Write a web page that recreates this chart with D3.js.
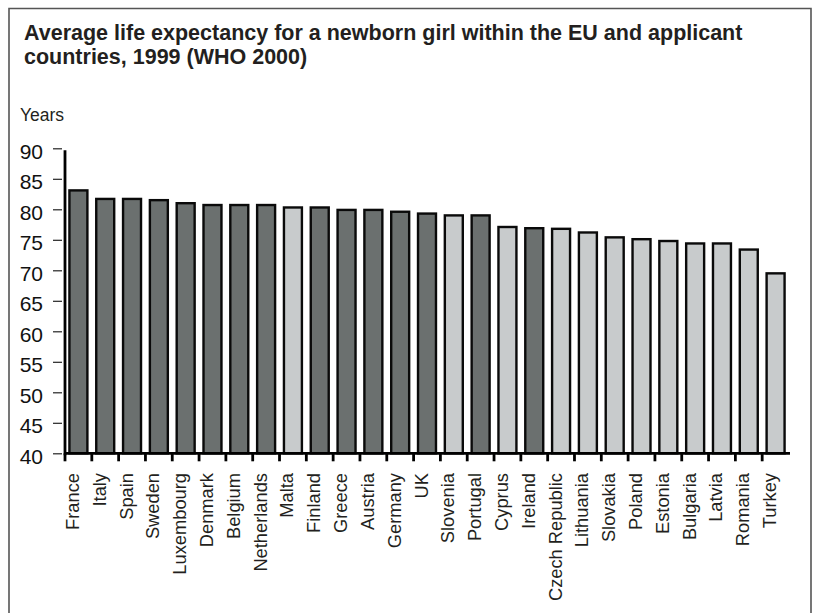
<!DOCTYPE html>
<html>
<head>
<meta charset="utf-8">
<script src="https://cdn.jsdelivr.net/npm/d3@7"></script>
<style>
  html, body { margin: 0; padding: 0; background: #fff; }
  svg { display: block; font-family: "Liberation Sans", Arial, Helvetica, sans-serif; }
</style>
</head>
<body>
<svg id="chart" width="815" height="613"></svg>
<script>
// Female life expectancy at birth, 1999 (WHO 2000)
const countries = ["France", "Italy", "Spain", "Sweden", "Luxembourg", "Denmark", "Belgium",
  "Netherlands", "Malta", "Finland", "Greece", "Austria", "Germany", "UK", "Slovenia",
  "Portugal", "Cyprus", "Ireland", "Czech Republic", "Lithuania", "Slovakia", "Poland",
  "Estonia", "Bulgaria", "Latvia", "Romania", "Turkey"];
const lifeExpectancy = [83.1, 81.7, 81.7, 81.5, 81.0, 80.7, 80.7,
  80.7, 80.3, 80.3, 79.9, 79.9, 79.6, 79.3, 79.0,
  79.0, 77.1, 76.9, 76.8, 76.2, 75.4, 75.1,
  74.8, 74.4, 74.4, 73.4, 69.5];
// EU member states (dark) vs applicant countries (light)
const euMembers = ["France", "Italy", "Spain", "Sweden", "Luxembourg", "Denmark", "Belgium",
  "Netherlands", "Finland", "Greece", "Austria", "Germany", "UK", "Portugal", "Ireland"];
const yTicks = [40, 45, 50, 55, 60, 65, 70, 75, 80, 85, 90];
const titleLines = ["Average life expectancy for a newborn girl within the EU and applicant",
  "countries, 1999 (WHO 2000)"];
const yUnit = "Years";

const svg = d3.select("#chart");

// outer frame (open at the bottom)
svg.append("path")
  .attr("d", "M9,613 V8.5 H811 V613")
  .attr("fill", "none")
  .attr("stroke", "#555")
  .attr("stroke-width", 1.6);

// title
svg.append("g").selectAll("text")
  .data(titleLines)
  .join("text")
  .attr("x", 24)
  .attr("y", (d, i) => 40 + i * 24)
  .attr("font-size", 21.5)
  .attr("font-weight", "bold")
  .attr("fill", "#231f20")
  .text(d => d);

svg.append("text")
  .attr("x", 20)
  .attr("y", 121)
  .attr("font-size", 17.5)
  .attr("fill", "#231f20")
  .text(yUnit);

const plotLeft = 65, plotRight = 789, baseY = 453.3, topY = 148.3;

const x = d3.scaleBand()
  .domain(countries)
  .range([plotLeft, plotRight])
  .paddingInner(0.33)
  .paddingOuter(0.165);

const y = d3.scaleLinear()
  .domain([40, 90])
  .range([baseY, topY]);

// bars
svg.append("g").selectAll("rect")
  .data(countries)
  .join("rect")
  .attr("x", d => x(d))
  .attr("width", x.bandwidth())
  .attr("y", (d, i) => y(lifeExpectancy[i]))
  .attr("height", (d, i) => y(40) - y(lifeExpectancy[i]))
  .attr("fill", d => euMembers.includes(d) ? "#6b706f" : "#c8cbcc")
  .attr("stroke", "#0a0a0a")
  .attr("stroke-width", 2.4);

// y axis: thin detached ticks, thick spine
const yAxis = svg.append("g")
  .attr("transform", `translate(62,0)`)
  .call(d3.axisLeft(y).tickValues(yTicks).tickSizeInner(9).tickSizeOuter(0).tickPadding(10));
yAxis.select(".domain").remove();
yAxis.selectAll(".tick line").attr("stroke", "#222").attr("stroke-width", 1.2);
yAxis.selectAll(".tick text")
  .attr("font-size", 21)
  .attr("font-family", "\"Liberation Sans\", Arial, Helvetica, sans-serif")
  .attr("fill", "#111")
  .attr("dy", "0.48em");

svg.append("line")
  .attr("x1", plotLeft).attr("x2", plotLeft)
  .attr("y1", topY + 2).attr("y2", baseY + 2)
  .attr("stroke", "#000")
  .attr("stroke-width", 2.8);

// x axis baseline and category separators
svg.append("line")
  .attr("x1", plotLeft - 1).attr("x2", plotRight + 1)
  .attr("y1", baseY).attr("y2", baseY)
  .attr("stroke", "#000")
  .attr("stroke-width", 2.8);

const step = x.step();
svg.append("g").selectAll("line")
  .data(countries)
  .join("line")
  .attr("x1", (d, i) => plotLeft + i * step)
  .attr("x2", (d, i) => plotLeft + i * step)
  .attr("y1", baseY)
  .attr("y2", baseY + 8)
  .attr("stroke", "#000")
  .attr("stroke-width", 2.8);

// rotated category labels
svg.append("g").selectAll("text")
  .data(countries)
  .join("text")
  .attr("transform", d => `translate(${x(d) + x.bandwidth() / 2 + 0.5},473) rotate(-90)`)
  .attr("text-anchor", "end")
  .attr("font-size", 18.3)
  .attr("fill", "#231f20")
  .text(d => d);
</script>
</body>
</html>
